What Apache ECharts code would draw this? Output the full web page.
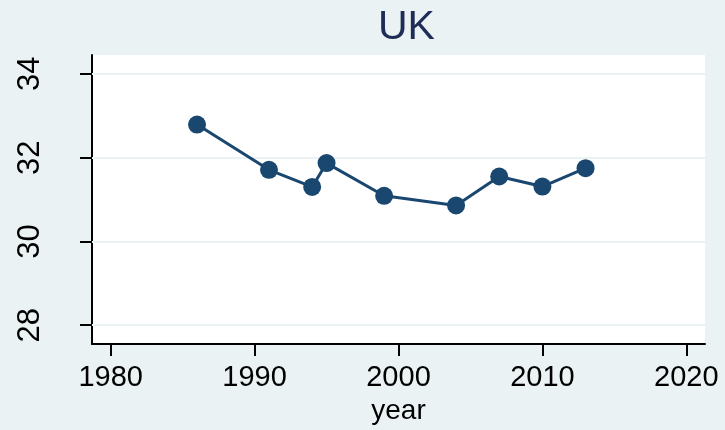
<!DOCTYPE html>
<html>
<head>
<meta charset="utf-8">
<script src="https://cdn.jsdelivr.net/npm/echarts@6/dist/echarts.min.js"></script>
<style>
* { margin: 0; padding: 0; }
body { background: #EAF2F3; }
</style>
</head>
<body>
<!-- chart container -->
<div id="main" style="width: 725px;height: 430px;"></div>
<script>
// values
var years = [1986, 1991, 1994, 1995, 1999, 2004, 2007, 2010, 2013];
var values = [32.79, 31.71, 31.30, 31.87, 31.09, 30.86, 31.55, 31.31, 31.75];
var xTicks = [1980, 1990, 2000, 2010, 2020];
var yTicks = [28, 30, 32, 34];

var points = [];
for (var i = 0; i < years.length; i++) {
  points.push([years[i], values[i]]);
}

var font = "'Liberation Sans', Arial, sans-serif";
var charts = echarts.init(document.getElementById("main"));
var opinion = {
  backgroundColor: "#EAF2F3",
  animation: false,
  title: {
    text: "UK",
    left: 373,
    top: 2,
    textStyle: { fontFamily: font, fontSize: 41, fontWeight: "normal", color: "#1E2D56" }
  },
  grid: {
    left: 92,
    right: 20,
    top: 55,
    bottom: 84,
    show: true,
    backgroundColor: "#FFFFFF",
    borderWidth: 0
  },
  xAxis: {
    type: "value",
    min: 1978.7,
    max: 2021.3,
    name: "year",
    nameLocation: "middle",
    nameGap: 46,
    nameTextStyle: { fontFamily: font, fontSize: 28, color: "#000" },
    axisLine: { show: true, onZero: false, lineStyle: { color: "#000", width: 2 } },
    axisTick: { show: true, length: 12, customValues: xTicks, lineStyle: { color: "#000", width: 2 } },
    axisLabel: {
      customValues: xTicks, margin: 19, fontFamily: font, fontSize: 29, color: "#000",
      formatter: function (v) { return String(v); }
    },
    splitLine: { show: false }
  },
  yAxis: {
    type: "value",
    min: 27.55,
    max: 34.45,
    axisLine: { show: true, onZero: false, lineStyle: { color: "#000", width: 2 } },
    axisTick: { show: true, length: 12, customValues: yTicks, lineStyle: { color: "#000", width: 2 } },
    axisLabel: { customValues: yTicks, rotate: 90, margin: 46, fontFamily: font, fontSize: 31, color: "#000" },
    splitLine: { show: false }
  },
  series: [
    {
      // grid lines at the y ticks
      type: "line",
      data: [],
      silent: true,
      markLine: {
        silent: true,
        symbol: "none",
        label: { show: false },
        lineStyle: { color: "#EAF2F3", width: 2, type: "solid" },
        data: yTicks.map(function (v) { return { yAxis: v }; })
      }
    },
    {
      name: "UK",
      type: "line",
      data: points,
      symbol: "circle",
      symbolSize: 18,
      itemStyle: { color: "#1A476F" },
      lineStyle: { color: "#1A476F", width: 3 },
      z: 5
    }
  ]
};
charts.setOption(opinion);
</script>
</body>
</html>
